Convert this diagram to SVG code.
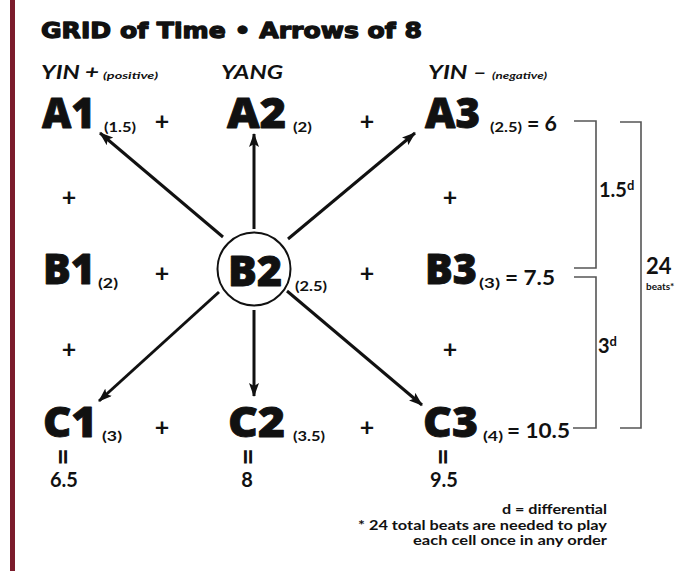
<svg xmlns="http://www.w3.org/2000/svg" width="690" height="571" viewBox="0 0 690 571">
<defs>
<style>
.t{font-family:Lato,"Open Sans","Liberation Sans",sans-serif;fill:#111;font-weight:700}
.title{font-family:"DejaVu Sans",sans-serif;font-weight:700;font-size:22px;fill:#111;stroke:#111;stroke-width:1.3;stroke-linejoin:round}
.hd{font-style:italic;font-size:19px}
.hs{font-style:italic;font-size:10px}
.big{font-family:"Open Sans","DejaVu Sans",sans-serif;font-size:42px;font-weight:800;stroke:#111;stroke-width:0.9;stroke-linejoin:round}
.sm{font-size:14px}
.eq{font-size:20px}
.pl{font-size:25px;text-anchor:middle}
.num{font-size:20px;text-anchor:middle}
.bar{font-size:30px;text-anchor:middle}
.foot{font-size:12.5px;text-anchor:end}
.arr{stroke:#111;stroke-width:3;fill:none;marker-end:url(#ah)}
.br{stroke:#555;stroke-width:1.6;fill:none}
</style>
<marker id="ah" viewBox="0 0 14 10" refX="13" refY="5" markerWidth="14" markerHeight="10" markerUnits="userSpaceOnUse" orient="auto">
<path d="M0,0 L14,5 L0,10 L3,5 z" fill="#111"/>
</marker>
</defs>
<rect width="690" height="571" fill="#fff"/>
<rect x="10" y="0" width="5" height="571" fill="#7b1c2c"/>
<text class="title" x="41" y="38" textLength="381" lengthAdjust="spacingAndGlyphs">GRID of Time • Arrows of 8</text>
<g id="headers">
<text class="t hd" x="41" y="79" textLength="58" lengthAdjust="spacingAndGlyphs">YIN +</text><text class="t hs" x="103" y="79" textLength="55" lengthAdjust="spacingAndGlyphs">(positive)</text>
<text class="t hd" x="221" y="79" textLength="62" lengthAdjust="spacingAndGlyphs">YANG</text>
<text class="t hd" x="428" y="79" textLength="59" lengthAdjust="spacingAndGlyphs">YIN –</text><text class="t hs" x="492" y="79" textLength="55" lengthAdjust="spacingAndGlyphs">(negative)</text>
</g>
<g id="A1"><text class="t big" x="42" y="128" textLength="53" lengthAdjust="spacingAndGlyphs">A1</text><text class="t sm" x="104" y="132" textLength="32" lengthAdjust="spacingAndGlyphs">(1.5)</text></g>
<g id="A2"><text class="t big" x="227" y="128" textLength="59" lengthAdjust="spacingAndGlyphs">A2</text><text class="t sm" x="293" y="132" textLength="19" lengthAdjust="spacingAndGlyphs">(2)</text></g>
<g id="A3"><text class="t big" x="425" y="128" textLength="55" lengthAdjust="spacingAndGlyphs">A3</text><text class="t sm" x="490" y="132" textLength="32" lengthAdjust="spacingAndGlyphs">(2.5)</text><text class="t eq" x="527" y="131" textLength="30" lengthAdjust="spacingAndGlyphs">= 6</text></g>
<g id="B1"><text class="t big" x="43" y="284" textLength="52" lengthAdjust="spacingAndGlyphs">B1</text><text class="t sm" x="98" y="288" textLength="20" lengthAdjust="spacingAndGlyphs">(2)</text></g>
<g id="B2"><circle cx="254" cy="269" r="36.5" fill="#fff" stroke="#111" stroke-width="2"/><text class="t big" x="228" y="286" textLength="54" lengthAdjust="spacingAndGlyphs">B2</text><text class="t sm" x="295" y="291" textLength="32" lengthAdjust="spacingAndGlyphs">(2.5)</text></g>
<g id="B3"><text class="t big" x="425" y="284" textLength="52" lengthAdjust="spacingAndGlyphs">B3</text><text class="t sm" x="479" y="288" textLength="21" lengthAdjust="spacingAndGlyphs">(3)</text><text class="t eq" x="505" y="285" textLength="50" lengthAdjust="spacingAndGlyphs">= 7.5</text></g>
<g id="C1"><text class="t big" x="43" y="437" textLength="54" lengthAdjust="spacingAndGlyphs">C1</text><text class="t sm" x="102" y="441" textLength="20" lengthAdjust="spacingAndGlyphs">(3)</text></g>
<g id="C2"><text class="t big" x="228" y="437" textLength="57" lengthAdjust="spacingAndGlyphs">C2</text><text class="t sm" x="293" y="441" textLength="32" lengthAdjust="spacingAndGlyphs">(3.5)</text></g>
<g id="C3"><text class="t big" x="423" y="437" textLength="55" lengthAdjust="spacingAndGlyphs">C3</text><text class="t sm" x="483" y="441" textLength="20" lengthAdjust="spacingAndGlyphs">(4)</text><text class="t eq" x="507" y="438" textLength="63" lengthAdjust="spacingAndGlyphs">= 10.5</text></g>
<g id="plus">
<text class="t pl" x="162" y="130">+</text><text class="t pl" x="367" y="130">+</text>
<text class="t pl" x="69" y="206">+</text><text class="t pl" x="450" y="206">+</text>
<text class="t pl" x="162" y="282">+</text><text class="t pl" x="367" y="282">+</text>
<text class="t pl" x="69" y="358">+</text><text class="t pl" x="450" y="358">+</text>
<text class="t pl" x="162" y="436">+</text><text class="t pl" x="367" y="436">+</text>
</g>
<g id="sums">
<text class="t bar" transform="translate(63,457) rotate(90)" y="10">=</text>
<text class="t bar" transform="translate(248,457) rotate(90)" y="10">=</text>
<text class="t bar" transform="translate(443,457) rotate(90)" y="10">=</text>
<text class="t num" x="64" y="487">6.5</text>
<text class="t num" x="247" y="487">8</text>
<text class="t num" x="444" y="487">9.5</text>
</g>
<g id="connectors">
<line class="arr" x1="223" y1="237" x2="100" y2="133"/>
<line class="arr" x1="254" y1="229" x2="254" y2="134"/>
<line class="arr" x1="288" y1="239" x2="415" y2="133"/>
<line class="arr" x1="219" y1="292" x2="99" y2="401"/>
<line class="arr" x1="254" y1="310" x2="254" y2="396"/>
<line class="arr" x1="287" y1="291" x2="422" y2="405"/>
</g>
<g id="brackets">
<path class="br" d="M574,121 H596 V268 H574"/>
<path class="br" d="M574,277 H596 V428 H573"/>
<path class="br" d="M620,122 H641 V428 H620"/>
<text class="t" x="599" y="197" style="font-size:20px">1.5<tspan dy="-7" style="font-size:13px">d</tspan></text>
<text class="t" x="598" y="353" style="font-size:20px">3<tspan dy="-7" style="font-size:13px">d</tspan></text>
<text class="t" x="646" y="274" style="font-size:22px">24</text>
<text class="t" x="646" y="290" style="font-size:10px">beats*</text>
</g>
<g id="footer">
<text class="t foot" x="607" y="514" textLength="105" lengthAdjust="spacingAndGlyphs">d = differential</text>
<text class="t foot" x="607" y="530" textLength="249" lengthAdjust="spacingAndGlyphs">* 24 total beats are needed to play</text>
<text class="t foot" x="607" y="545" textLength="194" lengthAdjust="spacingAndGlyphs">each cell once in any order</text>
</g>
</svg>
